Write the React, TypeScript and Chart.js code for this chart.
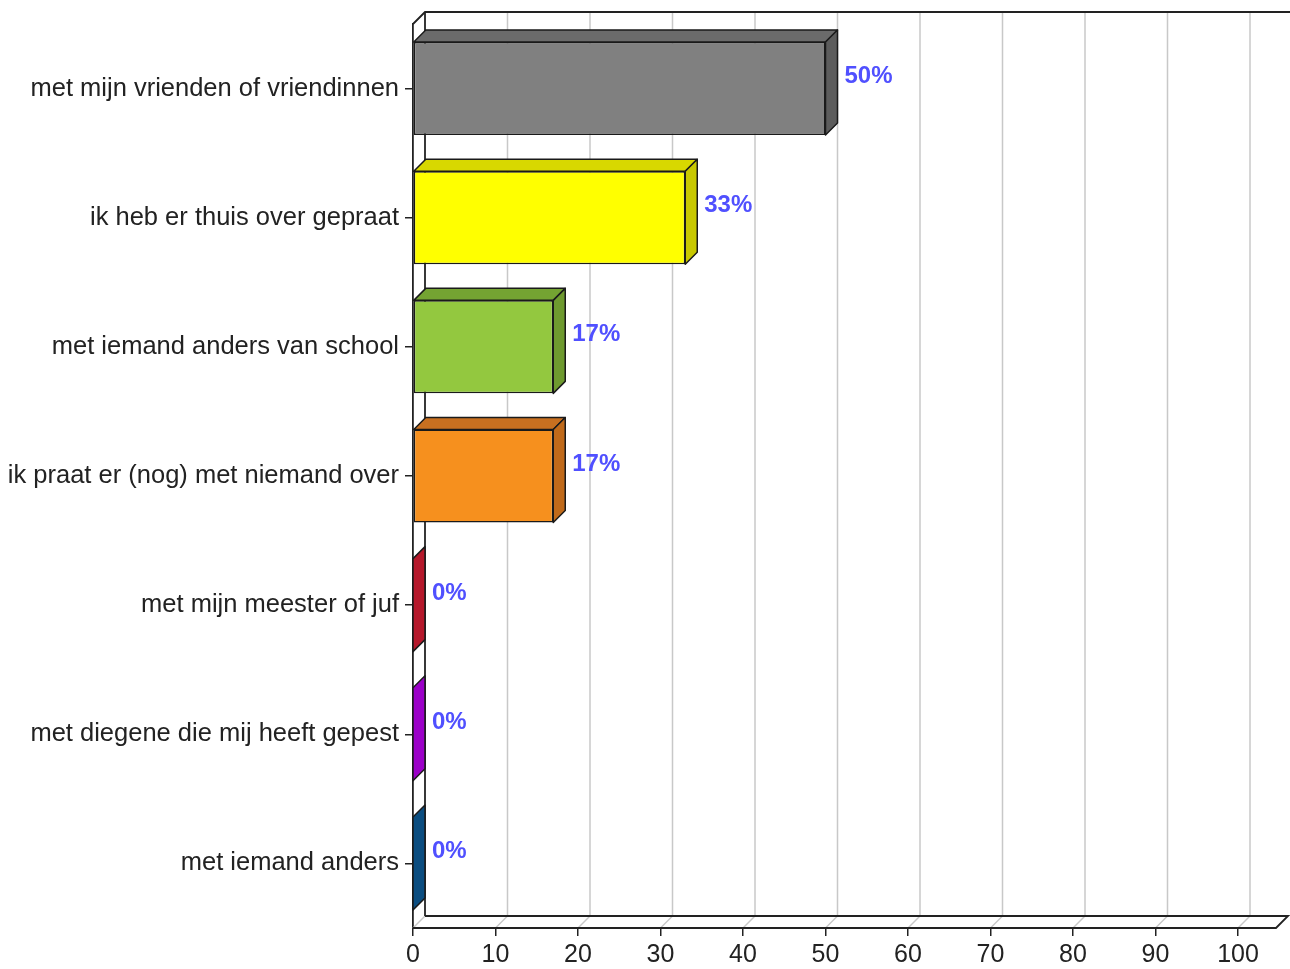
import React, { useEffect, useRef } from "react";
import { Chart, registerables } from "chart.js";

Chart.register(...registerables);

const categories = [
  "met mijn vrienden of vriendinnen",
  "ik heb er thuis over gepraat",
  "met iemand anders van school",
  "ik praat er (nog) met niemand over",
  "met mijn meester of juf",
  "met diegene die mij heeft gepest",
  "met iemand anders",
];
const values = [50, 33, 17, 17, 0, 0, 0];
const frontColors = ["#808080", "#ffff00", "#93c83f", "#f6901e", "#b5182b", "#9b00c8", "#0b4d80"];
const topColors = ["#6b6b6b", "#d8d800", "#74a332", "#c87020", "#8f1422", "#7a00a0", "#083c66"];
const sideColors = ["#5c5c5c", "#c8c800", "#6e9a2f", "#c06a1a", "#b5182b", "#9b00c8", "#0b4d80"];
const xTicks = [0, 10, 20, 30, 40, 50, 60, 70, 80, 90, 100];

const DX = 12;
const DY = 12;
const FONT = "'Liberation Sans', Arial, sans-serif";

const frame3d = {
  id: "frame3d",
  beforeDatasetsDraw(chart: any) {
    const { ctx, chartArea } = chart;
    const xs = chart.scales.x;
    const { left, top, bottom } = chartArea;
    const W = chart.width;
    ctx.save();
    ctx.strokeStyle = "#c8c8c8";
    ctx.lineWidth = 1.5;
    xTicks.forEach((v) => {
      const px = xs.getPixelForValue(v);
      if (v !== 0) {
        ctx.beginPath();
        ctx.moveTo(px + DX, top - DY);
        ctx.lineTo(px + DX, bottom - DY);
        ctx.stroke();
      }
      ctx.beginPath();
      ctx.moveTo(px, bottom);
      ctx.lineTo(px + DX, bottom - DY);
      ctx.stroke();
    });
    ctx.strokeStyle = "#222";
    ctx.lineWidth = 1.8;
    ctx.beginPath();
    ctx.moveTo(left, top);
    ctx.lineTo(left + DX, top - DY);
    ctx.lineTo(W, top - DY);
    ctx.stroke();
    ctx.beginPath();
    ctx.moveTo(left + DX, top - DY);
    ctx.lineTo(left + DX, bottom - DY);
    ctx.stroke();
    const fr = W - 2;
    ctx.beginPath();
    ctx.moveTo(left + DX, bottom - DY);
    ctx.lineTo(fr, bottom - DY);
    ctx.lineTo(fr - DX, bottom);
    ctx.lineTo(left, bottom);
    ctx.stroke();
    ctx.restore();
  },
  afterDatasetsDraw(chart: any) {
    const { ctx } = chart;
    const meta = chart.getDatasetMeta(0);
    ctx.save();
    ctx.lineWidth = 1.5;
    ctx.strokeStyle = "#1a1a1a";
    ctx.lineJoin = "round";
    meta.data.forEach((bar: any, i: number) => {
      const l = bar.base;
      const r = bar.x;
      const t = bar.y - bar.height / 2;
      const b = bar.y + bar.height / 2;
      if (r > l + 0.5) {
        ctx.beginPath();
        ctx.moveTo(l, t);
        ctx.lineTo(l + DX, t - DY);
        ctx.lineTo(r + DX, t - DY);
        ctx.lineTo(r, t);
        ctx.closePath();
        ctx.fillStyle = topColors[i];
        ctx.fill();
        ctx.stroke();
      }
      ctx.beginPath();
      ctx.moveTo(r, t);
      ctx.lineTo(r + DX, t - DY);
      ctx.lineTo(r + DX, b - DY);
      ctx.lineTo(r, b);
      ctx.closePath();
      ctx.fillStyle = sideColors[i];
      ctx.fill();
      ctx.stroke();
      ctx.fillStyle = "#5050ff";
      ctx.font = `bold 24px ${FONT}`;
      ctx.textAlign = "left";
      ctx.textBaseline = "middle";
      ctx.fillText(`${values[i]}%`, r + DX + 7, bar.y - 12);
    });
    ctx.restore();
  },
};

export default function App() {
  const ref = useRef<HTMLCanvasElement>(null);
  useEffect(() => {
    if (!ref.current) return;
    const chart = new Chart(ref.current, {
      type: "bar",
      data: {
        labels: categories,
        datasets: [
          {
            data: values,
            backgroundColor: frontColors,
            borderColor: "#1a1a1a",
            borderWidth: 1.5,
            borderSkipped: false,
            barPercentage: 0.72,
            categoryPercentage: 1,
          },
        ],
      },
      options: {
        indexAxis: "y",
        animation: false,
        responsive: false,
        maintainAspectRatio: false,
        layout: { padding: { top: 24, right: 52, left: 0, bottom: 0 } },
        plugins: { legend: { display: false }, tooltip: { enabled: false } },
        scales: {
          x: {
            min: 0,
            max: 100,
            ticks: {
              stepSize: 10,
              color: "#222",
              font: { family: FONT, size: 25 },
              padding: 4,
              maxRotation: 0,
            },
            grid: { drawOnChartArea: false, drawTicks: true, tickLength: 8, color: "#222", lineWidth: 1.5 },
            border: { display: false },
            afterFit: (s: any) => {
              s.height = 41;
            },
          },
          y: {
            ticks: {
              color: "#222",
              font: { family: FONT, size: 25.5 },
              padding: 6,
              autoSkip: false,
            },
            grid: { drawOnChartArea: false, drawTicks: true, tickLength: 8, color: "#222", lineWidth: 1.5, offset: false },
            border: { display: true, color: "#222", width: 1.8 },
            afterFit: (s: any) => {
              s.width = 413;
            },
          },
        },
      },
      plugins: [frame3d],
    });
    return () => chart.destroy();
  }, []);
  return (
    <div style={{ position: "absolute", left: 0, top: 0, width: 1290, height: 969, background: "#fff" }}>
      <canvas ref={ref} width={1290} height={969} />
    </div>
  );
}
